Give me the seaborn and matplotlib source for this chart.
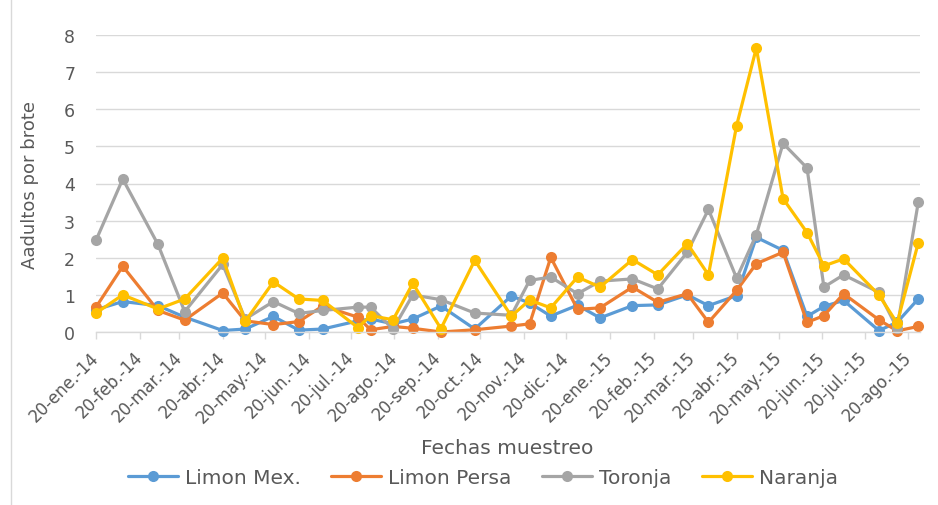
import matplotlib
matplotlib.use("Agg")
import matplotlib.pyplot as plt
from matplotlib.lines import Line2D
import numpy as np
import pandas as pd
import seaborn as sns

# ---------------- data ----------------
fechas = [
    "2014-01-20", "2014-02-08", "2014-03-05", "2014-03-24", "2014-04-20",
    "2014-05-06", "2014-05-26", "2014-06-13", "2014-06-30", "2014-07-25",
    "2014-08-03", "2014-08-19", "2014-09-02", "2014-09-22", "2014-10-16",
    "2014-11-11", "2014-11-24", "2014-12-09", "2014-12-28", "2015-01-13",
    "2015-02-05", "2015-02-23", "2015-03-16", "2015-03-31", "2015-04-20",
    "2015-05-04", "2015-05-23", "2015-06-09", "2015-06-21", "2015-07-05",
    "2015-07-30", "2015-08-12", "2015-08-27",
]
limon_mex = [0.60, 0.82, 0.71, 0.40, 0.04, 0.08, 0.42, 0.05, 0.08, 0.30,
             0.35, 0.22, 0.35, 0.70, 0.08, 0.97, 0.78, 0.43, 0.72, 0.38,
             0.71, 0.73, 1.00, 0.71, 0.98, 2.55, 2.20, 0.42, 0.69, 0.85,
             0.04, 0.26, 0.89]
limon_persa = [0.67, 1.77, 0.58, 0.32, 1.05, 0.30, 0.20, 0.28, 0.70, 0.40,
               0.06, 0.15, 0.10, 0.00, 0.06, 0.16, 0.22, 2.01, 0.61, 0.65,
               1.21, 0.80, 1.03, 0.26, 1.12, 1.84, 2.15, 0.26, 0.44, 1.03,
               0.33, 0.03, 0.15]
toronja = [2.47, 4.12, 2.36, 0.55, 1.82, 0.35, 0.82, 0.50, 0.58, 0.67,
           0.67, 0.08, 1.00, 0.87, 0.51, 0.45, 1.39, 1.48, 1.03, 1.37,
           1.43, 1.16, 2.15, 3.30, 1.45, 2.62, 5.08, 4.42, 1.21, 1.54,
           1.07, 0.10, 3.49]
naranja = [0.51, 1.00, 0.62, 0.89, 1.99, 0.29, 1.35, 0.89, 0.85, 0.12,
           0.44, 0.33, 1.31, 0.09, 1.93, 0.43, 0.86, 0.65, 1.48, 1.21,
           1.95, 1.54, 2.38, 1.54, 5.56, 7.65, 3.59, 2.68, 1.78, 1.97,
           1.00, 0.24, 2.40]

series_names = ["Limon Mex.", "Limon Persa", "Toronja", "Naranja"]
series_colors = ["#5B9BD5", "#ED7D31", "#A5A5A5", "#FFC000"]

tick_dates = [
    "2014-01-20", "2014-02-20", "2014-03-20", "2014-04-20", "2014-05-20",
    "2014-06-20", "2014-07-20", "2014-08-20", "2014-09-20", "2014-10-20",
    "2014-11-20", "2014-12-20", "2015-01-20", "2015-02-20", "2015-03-20",
    "2015-04-20", "2015-05-20", "2015-06-20", "2015-07-20", "2015-08-20",
]
tick_labels = [
    "20-ene.-14", "20-feb.-14", "20-mar.-14", "20-abr.-14", "20-may.-14",
    "20-jun.-14", "20-jul.-14", "20-ago.-14", "20-sep.-14", "20-oct.-14",
    "20-nov.-14", "20-dic.-14", "20-ene.-15", "20-feb.-15", "20-mar.-15",
    "20-abr.-15", "20-may.-15", "20-jun.-15", "20-jul.-15", "20-ago.-15",
]
y_ticks = [0, 1, 2, 3, 4, 5, 6, 7, 8]

df = pd.DataFrame({
    "fecha": pd.to_datetime(fechas),
    "Limon Mex.": limon_mex,
    "Limon Persa": limon_persa,
    "Toronja": toronja,
    "Naranja": naranja,
}).melt(id_vars="fecha", var_name="serie", value_name="valor")

# ---------------- style ----------------
sns.set_theme(style="white")
plt.rcParams["font.family"] = ["DejaVu Sans"]
TXT = "#595959"
GRID = "#D9D9D9"

fig = plt.figure(figsize=(9.38, 5.06), dpi=100)
ax = fig.add_axes([96 / 938, 1 - 333 / 506, (920 - 96) / 938, (333 - 36) / 506])

for name, color in zip(series_names, series_colors):
    sns.lineplot(
        data=df[df["serie"] == name], x="fecha", y="valor",
        color=color, marker="o", markersize=8, markeredgewidth=0,
        linewidth=2.3, errorbar=None, ax=ax, clip_on=False,
        label=name, legend=False,
    )

ax.set_xlim(pd.Timestamp("2014-01-20"), pd.Timestamp("2015-08-28 06:00"))
ax.set_ylim(0, 8)
ax.set_yticks(y_ticks)
ax.set_yticklabels([str(v) for v in y_ticks])
ax.set_xticks(pd.to_datetime(tick_dates))
ax.set_xticklabels(tick_labels, rotation=45, ha="right", va="center",
                   rotation_mode="anchor", fontsize=12, color=TXT)
ax.tick_params(axis="x", bottom=True, length=5, width=1, color=GRID,
               pad=11, direction="out")
ax.tick_params(axis="y", left=False, length=0, pad=15, labelsize=12.5,
               labelcolor=TXT)
ax.set_xlabel("")
ax.set_ylabel("")
ax.yaxis.grid(True, color=GRID, linewidth=1)
ax.xaxis.grid(False)
ax.set_axisbelow(True)
for s in ["top", "right", "left"]:
    ax.spines[s].set_visible(False)
ax.spines["bottom"].set_color(GRID)
ax.spines["bottom"].set_linewidth(1)

fig.text(30 / 938, 1 - 185 / 506, "Aadultos por brote", rotation=90,
         ha="center", va="center", fontsize=13, color=TXT)
fig.text(507 / 938, 1 - 449 / 506, "Fechas muestreo", ha="center",
         va="center", fontsize=14.5, color=TXT)

handles, labels = ax.get_legend_handles_labels()
fig.legend(handles, labels, loc="center", bbox_to_anchor=(483 / 938, 1 - 479 / 506),
           ncol=4, frameon=False, fontsize=14.5, handlelength=2.5,
           handletextpad=0.35, columnspacing=1.5, labelcolor=TXT)

fig.add_artist(Line2D([10.5 / 938, 10.5 / 938], [0, 1], transform=fig.transFigure,
                      color=GRID, linewidth=1))

fig.savefig("out.png", dpi=100)
